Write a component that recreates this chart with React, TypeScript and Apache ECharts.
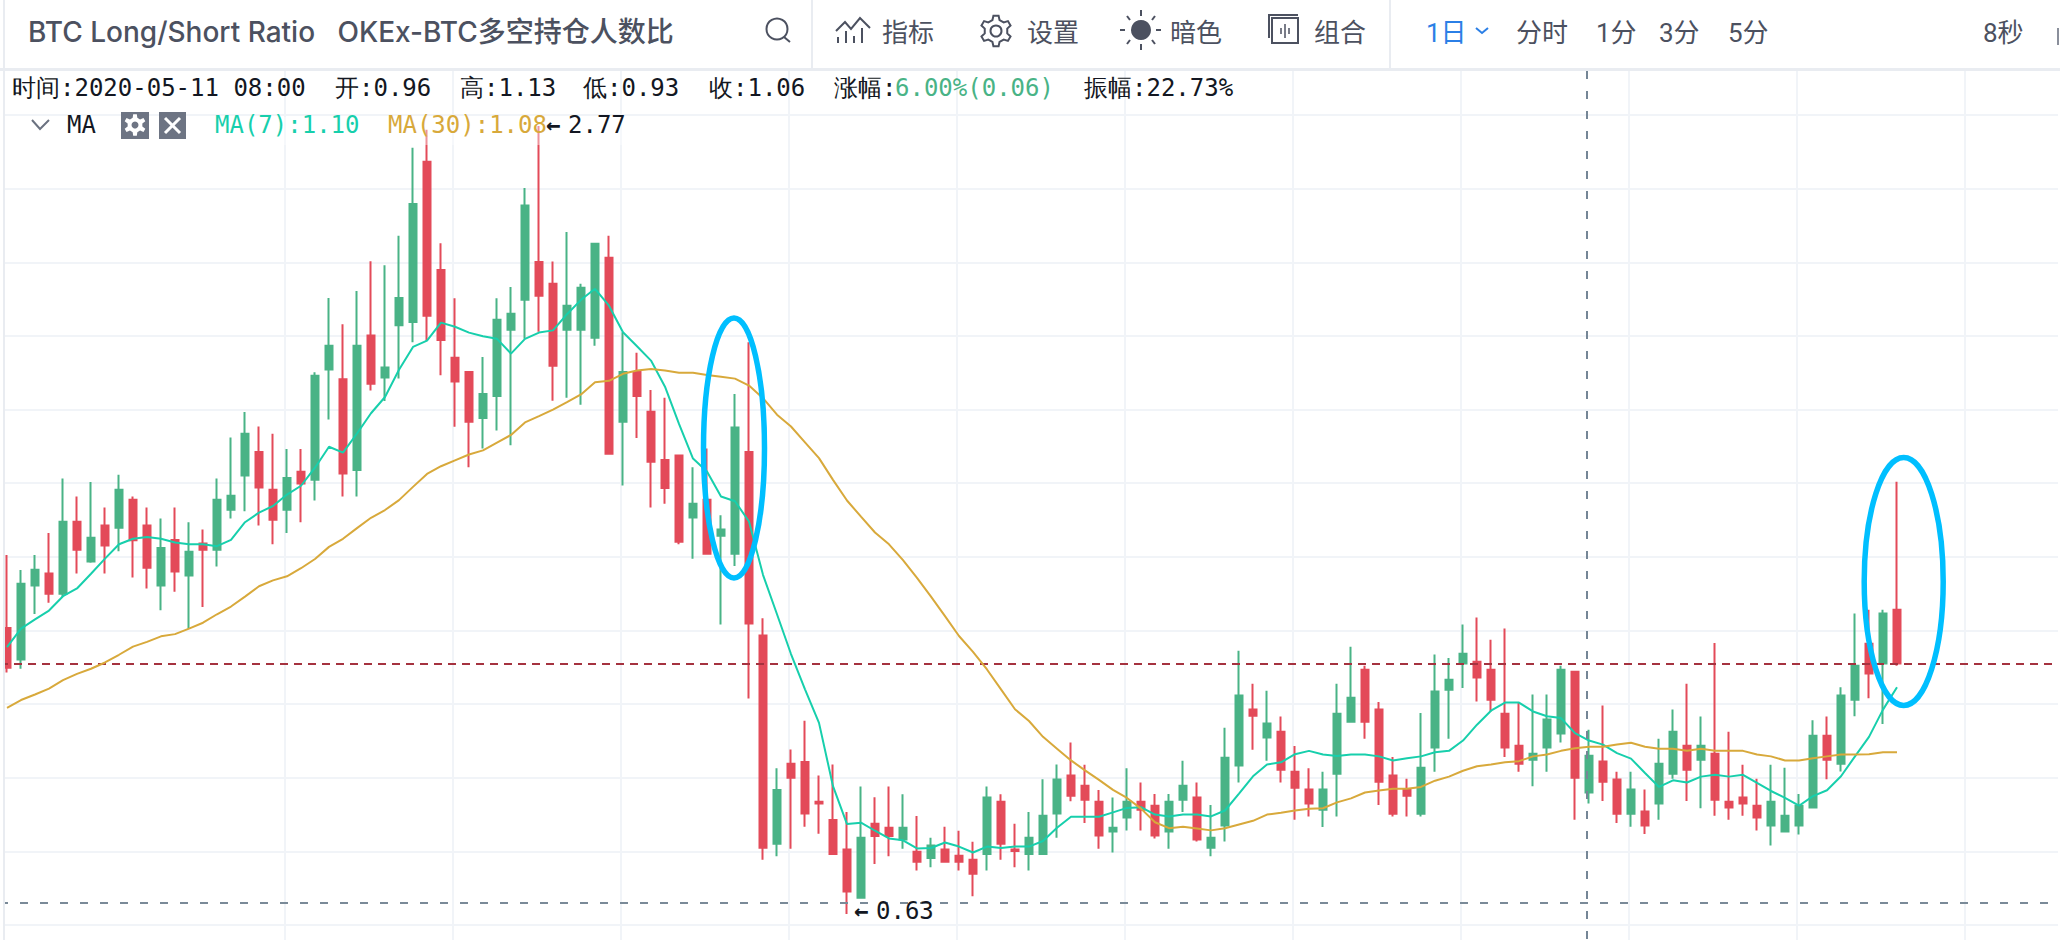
import React, { useEffect, useRef } from "react";
import * as echarts from "echarts";

const opens = [1.407,1.321,1.522,1.555,1.5,1.695,1.587,1.685,1.679,1.755,1.685,1.522,1.646,1.549,1.636,1.619,1.728,1.821,1.885,1.782,1.728,1.831,1.809,2.109,2.082,1.836,2.201,2.087,2.229,2.238,2.673,2.379,2.141,2.102,1.977,2.037,2.217,2.298,2.401,2.342,2.217,2.217,2.195,2.412,1.967,2.102,1.994,1.863,1.875,1.707,1.755,1.657,1.608,1.885,1.386,0.821,1.038,1.043,0.935,0.885,0.805,0.674,0.875,0.864,0.832,0.799,0.782,0.805,0.788,0.777,0.793,0.935,0.805,0.793,0.793,0.903,1.006,0.978,0.935,0.854,0.892,0.935,0.924,0.854,0.94,0.946,0.81,0.87,1.033,1.185,1.109,1.125,1.016,0.968,0.913,1.011,1.152,1.293,1.185,1.006,0.968,0.902,1.082,1.239,1.31,1.315,1.293,1.174,1.087,1.049,1.082,1.12,1.288,0.96,1.044,0.995,0.902,0.908,0.93,1.011,1.087,1.049,1.065,0.935,0.946,0.924,0.87,0.854,0.87,0.919,1.114,1.038,1.212,1.364,1.31,1.456];
const closes = [1.299,1.527,1.565,1.5,1.695,1.619,1.652,1.631,1.782,1.645,1.57,1.624,1.56,1.614,1.619,1.755,1.766,1.934,1.788,1.701,1.814,1.799,2.092,2.173,1.826,2.173,2.07,2.114,2.303,2.558,2.255,2.189,2.076,1.967,2.042,2.244,2.26,2.554,2.309,2.119,2.282,2.331,2.45,1.88,2.102,2.037,1.858,1.787,1.641,1.744,1.608,1.674,1.951,1.419,0.81,0.967,1.0,0.903,0.93,0.793,0.691,0.837,0.842,0.842,0.864,0.772,0.816,0.772,0.772,0.739,0.946,0.821,0.801,0.837,0.897,0.995,0.951,0.94,0.843,0.864,0.935,0.913,0.843,0.935,0.978,0.832,0.837,1.054,1.223,1.168,1.147,1.022,0.973,0.93,0.968,1.174,1.217,1.152,0.989,0.902,0.951,1.027,1.234,1.266,1.337,1.272,1.212,1.082,1.038,1.065,1.158,1.293,1.0,1.06,0.989,0.902,0.968,0.87,1.038,1.125,1.022,1.087,0.94,0.919,0.93,0.892,0.935,0.897,0.924,1.114,1.049,1.223,1.304,1.283,1.446,1.31];
const lows = [1.286,1.296,1.445,1.475,1.491,1.555,1.584,1.555,1.615,1.544,1.514,1.455,1.505,1.405,1.464,1.574,1.704,1.724,1.685,1.634,1.665,1.694,1.753,1.973,1.764,1.764,2.052,2.023,2.084,2.183,2.186,2.093,1.953,1.843,1.894,1.943,1.903,2.192,2.211,2.024,2.032,2.013,2.173,1.88,1.794,1.923,1.734,1.744,1.634,1.595,1.608,1.416,1.575,1.215,0.777,0.787,0.807,0.867,0.848,0.793,0.63,0.674,0.766,0.787,0.807,0.748,0.757,0.772,0.748,0.678,0.748,0.777,0.757,0.748,0.793,0.837,0.936,0.877,0.807,0.797,0.857,0.857,0.835,0.807,0.907,0.827,0.787,0.827,0.987,1.076,1.046,0.987,0.886,0.895,0.866,0.895,1.152,1.106,0.926,0.895,0.895,0.895,1.016,1.106,1.244,1.207,1.179,1.056,1.016,0.977,1.016,1.096,0.886,0.93,0.937,0.877,0.867,0.847,0.886,0.997,0.937,0.917,0.897,0.886,0.897,0.857,0.816,0.854,0.846,0.917,0.996,1.017,1.167,1.216,1.146,1.304];
const highs = [1.605,1.564,1.605,1.665,1.813,1.764,1.803,1.734,1.823,1.764,1.734,1.704,1.734,1.694,1.674,1.813,1.924,1.993,1.954,1.934,1.893,1.893,2.101,2.303,2.232,2.322,2.403,2.392,2.472,2.711,2.76,2.452,2.302,2.102,2.143,2.302,2.333,2.602,2.77,2.402,2.482,2.342,2.45,2.472,2.21,2.154,2.053,2.032,1.875,1.843,1.894,1.713,2.042,2.183,1.433,1.026,1.077,1.155,1.006,1.036,0.907,0.976,0.947,0.976,0.955,0.896,0.837,0.867,0.856,0.826,0.976,0.955,0.875,0.907,0.996,1.036,1.096,1.035,0.967,0.946,1.026,0.987,0.956,0.956,1.046,0.987,0.926,1.136,1.345,1.255,1.236,1.166,1.086,1.026,1.016,1.255,1.356,1.304,1.206,1.056,0.997,1.176,1.335,1.325,1.416,1.435,1.375,1.405,1.203,1.226,1.226,1.304,1.288,1.13,1.196,1.016,1.016,0.968,1.106,1.185,1.255,1.166,1.366,1.125,1.035,0.997,1.035,1.027,0.956,1.156,1.166,1.246,1.446,1.456,1.456,1.804];
const ma7 = [1.355,1.405,1.43,1.454,1.493,1.514,1.554,1.595,1.634,1.649,1.654,1.649,1.639,1.634,1.634,1.629,1.646,1.694,1.72,1.738,1.769,1.793,1.842,1.899,1.883,1.935,1.99,2.034,2.108,2.17,2.187,2.236,2.225,2.209,2.199,2.192,2.152,2.192,2.209,2.215,2.259,2.298,2.328,2.282,2.21,2.172,2.133,2.062,1.961,1.867,1.832,1.764,1.751,1.696,1.551,1.444,1.336,1.24,1.149,0.977,0.874,0.878,0.856,0.835,0.83,0.808,0.809,0.824,0.813,0.797,0.813,0.809,0.813,0.813,0.828,0.864,0.894,0.894,0.894,0.906,0.918,0.92,0.9,0.895,0.9,0.9,0.895,0.911,0.957,1.004,1.036,1.042,1.064,1.073,1.063,1.059,1.063,1.063,1.058,1.047,1.053,1.058,1.069,1.073,1.101,1.144,1.182,1.204,1.204,1.18,1.167,1.162,1.121,1.101,1.09,1.067,1.052,1.013,0.975,0.993,0.987,1.003,1.008,1.003,1.008,0.986,0.964,0.945,0.924,0.95,0.966,1.004,1.058,1.111,1.185,1.246];
const ma30 = [1.19,1.211,1.226,1.242,1.265,1.282,1.296,1.313,1.334,1.356,1.369,1.384,1.39,1.405,1.421,1.444,1.465,1.492,1.52,1.536,1.547,1.569,1.594,1.627,1.649,1.678,1.706,1.727,1.754,1.79,1.825,1.846,1.862,1.878,1.889,1.91,1.931,1.965,1.982,2.0,2.02,2.041,2.074,2.078,2.097,2.106,2.11,2.106,2.1,2.1,2.094,2.089,2.084,2.065,2.031,1.986,1.954,1.911,1.868,1.809,1.753,1.709,1.666,1.634,1.591,1.543,1.492,1.439,1.385,1.342,1.294,1.24,1.186,1.154,1.111,1.079,1.047,1.02,0.994,0.967,0.945,0.916,0.879,0.863,0.867,0.862,0.857,0.863,0.873,0.883,0.9,0.905,0.911,0.916,0.917,0.933,0.944,0.96,0.965,0.97,0.97,0.975,0.992,1.003,1.019,1.031,1.036,1.042,1.045,1.058,1.063,1.073,1.08,1.084,1.084,1.09,1.095,1.084,1.079,1.079,1.073,1.079,1.073,1.073,1.073,1.063,1.058,1.047,1.047,1.053,1.058,1.063,1.063,1.064,1.069,1.069];
const yTicks = { min: 0.6, max: 2.8, step: 0.2 };
const currentLevel = 1.315;
const lowLevel = 0.6555;
const toolbarItems = ["指标", "设置", "暗色", "组合"];

const categories: string[] = [];
{
  const start = Date.UTC(2020, 0, 19);
  for (let i = 0; i < 147; i++) {
    categories.push(new Date(start + i * 86400000).toISOString().slice(0, 10));
  }
}

const UP = "#49b386";
const DOWN = "#e34a59";
const GRID = "#f1f4f8";
const LINE = "#e9ecf1";
const INK = "#4c5160";
const MONO = '"DejaVu Sans Mono", monospace';
const SANS = 'Roboto, "Noto Sans CJK SC", sans-serif';
const TITLE = 'Inter, "Noto Sans CJK SC", sans-serif';

function gearPath(cx: number, cy: number, r1: number, r2: number, n: number) {
  const pts: string[] = [];
  for (let i = 0; i < n; i++) {
    const a = (i / n) * Math.PI * 2;
    const d = (Math.PI * 2) / n;
    const list: [number, number][] = [
      [a - d * 0.3, r1],
      [a - d * 0.16, r2],
      [a + d * 0.16, r2],
      [a + d * 0.3, r1],
    ];
    for (const [t, r] of list) {
      pts.push(`${(cx + r * Math.sin(t)).toFixed(2)} ${(cy - r * Math.cos(t)).toFixed(2)}`);
    }
  }
  return "M" + pts.join("L") + "Z";
}

echarts.graphic.registerShape("gearA", echarts.graphic.extendPath(gearPath(996, 31, 11.5, 15.5, 6), {}));
echarts.graphic.registerShape("gearB", echarts.graphic.extendPath(gearPath(135, 125, 7.5, 11, 6), {}));

function txt(text: string, x: number, y: number, font: string, fill: string, z = 60) {
  return { type: "text", z, silent: true, style: { text, x, y, font, fill, verticalAlign: "middle", align: "left" } };
}
function seg(x1: number, y1: number, x2: number, y2: number, stroke: string, lineWidth = 2, z = 60, lineDash?: number[]) {
  return { type: "line", z, silent: true, shape: { x1, y1, x2, y2 }, style: { stroke, lineWidth, lineDash } };
}
function box(x: number, y: number, width: number, height: number, fill: string, z = 55, opacity = 1) {
  return { type: "rect", z, silent: true, shape: { x, y, width, height }, style: { fill, opacity } };
}

function buildGraphics() {
  const mono = `24px ${MONO}`;
  const bar = `26px ${SANS}`;
  const els: any[] = [
    box(0, 0, 2060, 69, "#ffffff", 50),
    box(0, 68, 2060, 3, LINE, 51),
    box(0, 0, 3, 940, "#ffffff", 50),
    box(3, 0, 2, 940, LINE, 51),
    box(811, 0, 2, 68, LINE, 52),
    box(1389, 0, 2, 68, LINE, 52),
    txt("BTC Long/Short Ratio   OKEx-BTC多空持仓人数比", 28, 32, `500 28px ${TITLE}`, INK),
    // search
    { type: "circle", z: 60, silent: true, shape: { cx: 777, cy: 29, r: 10.5 }, style: { fill: "none", stroke: INK, lineWidth: 2 } },
    seg(784, 37, 790, 42, INK),
    // indicator icon
    { type: "polyline", z: 60, silent: true, shape: { points: [[836, 31], [845, 22], [851, 29], [860, 18], [870, 28]] }, style: { fill: "none", stroke: INK, lineWidth: 2 } },
    seg(838, 37, 838, 43, INK), seg(846, 31, 846, 43, INK), seg(854, 36, 854, 43, INK), seg(862, 28, 862, 43, INK),
    txt(toolbarItems[0], 882, 33, bar, INK),
    // gear icon
    { type: "gearA", z: 60, silent: true, style: { fill: "none", stroke: INK, lineWidth: 2 } },
    { type: "circle", z: 60, silent: true, shape: { cx: 996, cy: 31, r: 5.5 }, style: { fill: "none", stroke: INK, lineWidth: 2 } },
    txt(toolbarItems[1], 1027, 33, bar, INK),
    // sun
    { type: "circle", z: 60, silent: true, shape: { cx: 1141, cy: 30, r: 10 }, style: { fill: INK } },
    seg(1141, 10, 1141, 16, INK), seg(1141, 44, 1141, 50, INK), seg(1120, 30, 1125, 30, INK), seg(1156, 30, 1161, 30, INK),
    seg(1127, 16, 1130, 20, INK), seg(1155, 16, 1152, 20, INK), seg(1127, 44, 1130, 40, INK), seg(1155, 44, 1152, 40, INK),
    txt(toolbarItems[2], 1170, 33, bar, INK),
    // group icon
    { type: "rect", z: 60, silent: true, shape: { x: 1272, y: 18, width: 26, height: 25 }, style: { fill: "none", stroke: INK, lineWidth: 2 } },
    seg(1268, 15, 1298, 15, INK), seg(1269, 15, 1269, 38, INK),
    seg(1285, 24, 1285, 38, INK, 1.5), seg(1281, 28, 1281, 34, INK, 1.5), seg(1289, 28, 1289, 34, INK, 1.5),
    txt(toolbarItems[3], 1314, 33, bar, INK),
    txt("1日", 1426, 33, bar, "#2b7fe6"),
    { type: "polyline", z: 60, silent: true, shape: { points: [[1476, 28], [1482, 33], [1488, 28]] }, style: { fill: "none", stroke: "#2b7fe6", lineWidth: 2 } },
    txt("分时", 1516, 33, bar, INK),
    txt("1分", 1596, 33, bar, INK),
    txt("3分", 1659, 33, bar, INK),
    txt("5分", 1728, 33, bar, INK),
    txt("8秒", 1983, 33, bar, INK),
    seg(2058, 28, 2058, 45, "#8a8f9b"),
    // OHLC row
    txt("时间:2020-05-11 08:00", 12, 88, mono, "#131722"),
    txt("开:0.96", 335, 88, mono, "#131722"),
    txt("高:1.13", 460, 88, mono, "#131722"),
    txt("低:0.93", 583, 88, mono, "#131722"),
    txt("收:1.06", 709, 88, mono, "#131722"),
    txt("涨幅:", 834, 88, mono, "#131722"),
    txt("6.00%(0.06)", 895, 88, mono, UP),
    txt("振幅:22.73%", 1084, 88, mono, "#131722"),
    // MA legend row
    box(5, 117, 620, 28, "rgba(255,255,255,0.4)", 44),
    { type: "polyline", z: 60, silent: true, shape: { points: [[32, 120], [40, 129], [49, 120]] }, style: { fill: "none", stroke: "#6b7280", lineWidth: 2 } },
    txt("MA", 67, 125, mono, "#131722"),
    box(121, 112, 28, 27, "#6d7483", 55),
    { type: "gearB", z: 60, silent: true, style: { fill: "#ffffff" } },
    { type: "circle", z: 61, silent: true, shape: { cx: 135, cy: 125, r: 3.5 }, style: { fill: "#6d7483" } },
    box(159, 112, 27, 27, "#6d7483", 55),
    seg(165, 118, 180, 133, "#ffffff", 3), seg(180, 118, 165, 133, "#ffffff", 3),
    txt("MA(7):1.10", 215, 125, mono, "#17cfac"),
    txt("MA(30):1.08", 388, 125, mono, "#d8a93b"),
    txt("←", 546, 125, `bold 24px ${MONO}`, "#131722"),
    txt("2.77", 568, 125, mono, "#131722"),
    txt("←", 854, 911, `bold 24px ${MONO}`, "#131722"),
    txt("0.63", 876, 911, mono, "#131722"),
    // crosshair
    seg(1587, 71, 1587, 940, "#758696", 2, 40, [8, 12]),
    // highlight ellipses
    { type: "ellipse", z: 45, silent: true, shape: { cx: 734, cy: 448, rx: 30.5, ry: 130 }, style: { fill: "none", stroke: "#00bfff", lineWidth: 5.5 } },
    { type: "ellipse", z: 45, silent: true, shape: { cx: 1903.7, cy: 581.5, rx: 39.5, ry: 124 }, style: { fill: "none", stroke: "#00bfff", lineWidth: 5.5 } },
  ];
  return els;
}

export default function App() {
  const ref = useRef<HTMLDivElement>(null);
  useEffect(() => {
    const chart = echarts.init(ref.current!, undefined, { renderer: "svg" });
    chart.setOption({
      animation: false,
      backgroundColor: "#ffffff",
      tooltip: { show: false },
      grid: [
        { left: 0, top: 115, width: 2058, height: 810, containLabel: false },
        { left: 285, top: 70, width: 1680, height: 870, containLabel: false },
      ],
      xAxis: [
        { type: "category", gridIndex: 0, data: categories, boundaryGap: true, axisLine: { show: false }, axisTick: { show: false }, axisLabel: { show: false }, splitLine: { show: false } },
        { type: "value", gridIndex: 1, min: 0, max: 1680, interval: 168, axisLine: { show: false }, axisTick: { show: false }, axisLabel: { show: false }, splitLine: { show: true, lineStyle: { color: GRID, width: 2 } } },
      ],
      yAxis: [
        { type: "value", gridIndex: 0, min: yTicks.min, max: yTicks.max, interval: yTicks.step, axisLine: { show: false }, axisTick: { show: false }, axisLabel: { show: false }, splitLine: { show: true, lineStyle: { color: GRID, width: 2 } } },
        { type: "value", gridIndex: 1, min: 0, max: 1, axisLine: { show: false }, axisTick: { show: false }, axisLabel: { show: false }, splitLine: { show: false } },
      ],
      series: [
        {
          name: "BTC Long/Short Ratio",
          type: "candlestick",
          xAxisIndex: 0,
          yAxisIndex: 0,
          barWidth: 8,
          z: 3,
          itemStyle: { color: UP, color0: DOWN, borderColor: UP, borderColor0: DOWN, borderWidth: 2 },
          data: opens.map((o, i) => [o, closes[i], lows[i], highs[i]]),
          markLine: {
            silent: true,
            symbol: "none",
            animation: false,
            label: { show: false },
            data: [
              { yAxis: currentLevel, lineStyle: { color: "#a5323f", width: 2, type: [8, 6] } },
              { yAxis: lowLevel, lineStyle: { color: "#7a8a98", width: 2, type: [8, 12] } },
            ],
          },
        },
        {
          name: "MA(7)",
          type: "line",
          xAxisIndex: 0,
          yAxisIndex: 0,
          z: 5,
          symbol: "none",
          smooth: false,
          lineStyle: { color: "#17cfac", width: 2 },
          data: ma7,
        },
        {
          name: "MA(30)",
          type: "line",
          xAxisIndex: 0,
          yAxisIndex: 0,
          z: 5,
          symbol: "none",
          smooth: false,
          lineStyle: { color: "#d8a93b", width: 2 },
          data: ma30,
        },
      ],
      graphic: { elements: buildGraphics() },
    });
    return () => chart.dispose();
  }, []);
  return <div ref={ref} style={{ position: "absolute", left: 0, top: 0, width: 2060, height: 940 }} />;
}
